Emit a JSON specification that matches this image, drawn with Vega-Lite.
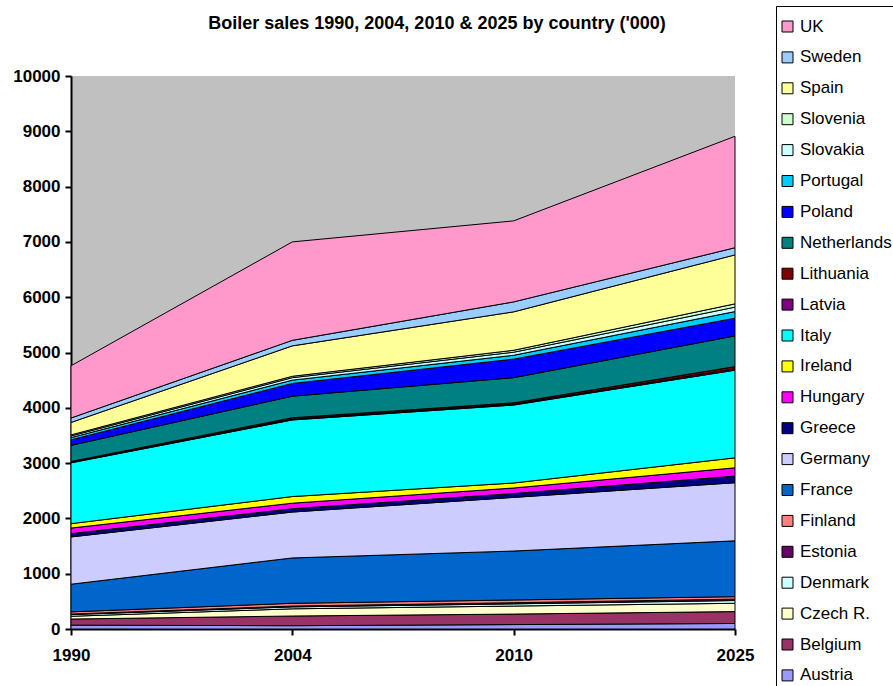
{
  "$schema": "https://vega.github.io/schema/vega-lite/v6.json",
  "width": 664,
  "height": 553,
  "autosize": "none",
  "padding": {"left": 71, "top": 76, "right": 158, "bottom": 57},
  "background": "white",
  "config": {
    "font": "Liberation Sans",
    "view": {"fill": "#C0C0C0", "stroke": null}
  },
  "title": {
    "text": "Boiler sales 1990, 2004, 2010 & 2025 by country ('000)",
    "font": "Liberation Sans",
    "fontSize": 18,
    "fontWeight": "bold",
    "color": "black",
    "anchor": "middle",
    "frame": "group",
    "offset": 0,
    "dx": 34,
    "dy": 27
  },
  "data": {
    "values": [
      {"country": "Austria", "year": "1990", "value": 70},
      {"country": "Austria", "year": "2004", "value": 60},
      {"country": "Austria", "year": "2010", "value": 80},
      {"country": "Austria", "year": "2025", "value": 100},
      {"country": "Belgium", "year": "1990", "value": 110},
      {"country": "Belgium", "year": "2004", "value": 175},
      {"country": "Belgium", "year": "2010", "value": 190},
      {"country": "Belgium", "year": "2025", "value": 215},
      {"country": "Czech R.", "year": "1990", "value": 50},
      {"country": "Czech R.", "year": "2004", "value": 130},
      {"country": "Czech R.", "year": "2010", "value": 145},
      {"country": "Czech R.", "year": "2025", "value": 150},
      {"country": "Denmark", "year": "1990", "value": 30},
      {"country": "Denmark", "year": "2004", "value": 35},
      {"country": "Denmark", "year": "2010", "value": 40},
      {"country": "Denmark", "year": "2025", "value": 50},
      {"country": "Estonia", "year": "1990", "value": 10},
      {"country": "Estonia", "year": "2004", "value": 15},
      {"country": "Estonia", "year": "2010", "value": 20},
      {"country": "Estonia", "year": "2025", "value": 25},
      {"country": "Finland", "year": "1990", "value": 40},
      {"country": "Finland", "year": "2004", "value": 50},
      {"country": "Finland", "year": "2010", "value": 50},
      {"country": "Finland", "year": "2025", "value": 45},
      {"country": "France", "year": "1990", "value": 500},
      {"country": "France", "year": "2004", "value": 820},
      {"country": "France", "year": "2010", "value": 885},
      {"country": "France", "year": "2025", "value": 1010},
      {"country": "Germany", "year": "1990", "value": 855},
      {"country": "Germany", "year": "2004", "value": 830},
      {"country": "Germany", "year": "2010", "value": 970},
      {"country": "Germany", "year": "2025", "value": 1050},
      {"country": "Greece", "year": "1990", "value": 60},
      {"country": "Greece", "year": "2004", "value": 60},
      {"country": "Greece", "year": "2010", "value": 70},
      {"country": "Greece", "year": "2025", "value": 120},
      {"country": "Hungary", "year": "1990", "value": 100},
      {"country": "Hungary", "year": "2004", "value": 100},
      {"country": "Hungary", "year": "2010", "value": 100},
      {"country": "Hungary", "year": "2025", "value": 150},
      {"country": "Ireland", "year": "1990", "value": 80},
      {"country": "Ireland", "year": "2004", "value": 120},
      {"country": "Ireland", "year": "2010", "value": 90},
      {"country": "Ireland", "year": "2025", "value": 180},
      {"country": "Italy", "year": "1990", "value": 1100},
      {"country": "Italy", "year": "2004", "value": 1385},
      {"country": "Italy", "year": "2010", "value": 1410},
      {"country": "Italy", "year": "2025", "value": 1585},
      {"country": "Latvia", "year": "1990", "value": 10},
      {"country": "Latvia", "year": "2004", "value": 15},
      {"country": "Latvia", "year": "2010", "value": 15},
      {"country": "Latvia", "year": "2025", "value": 25},
      {"country": "Lithuania", "year": "1990", "value": 15},
      {"country": "Lithuania", "year": "2004", "value": 25},
      {"country": "Lithuania", "year": "2010", "value": 25},
      {"country": "Lithuania", "year": "2025", "value": 40},
      {"country": "Netherlands", "year": "1990", "value": 290},
      {"country": "Netherlands", "year": "2004", "value": 390},
      {"country": "Netherlands", "year": "2010", "value": 455},
      {"country": "Netherlands", "year": "2025", "value": 555},
      {"country": "Poland", "year": "1990", "value": 100},
      {"country": "Poland", "year": "2004", "value": 230},
      {"country": "Poland", "year": "2010", "value": 335},
      {"country": "Poland", "year": "2025", "value": 320},
      {"country": "Portugal", "year": "1990", "value": 40},
      {"country": "Portugal", "year": "2004", "value": 60},
      {"country": "Portugal", "year": "2010", "value": 70},
      {"country": "Portugal", "year": "2025", "value": 120},
      {"country": "Slovakia", "year": "1990", "value": 30},
      {"country": "Slovakia", "year": "2004", "value": 45},
      {"country": "Slovakia", "year": "2010", "value": 55},
      {"country": "Slovakia", "year": "2025", "value": 80},
      {"country": "Slovenia", "year": "1990", "value": 20},
      {"country": "Slovenia", "year": "2004", "value": 25},
      {"country": "Slovenia", "year": "2010", "value": 35},
      {"country": "Slovenia", "year": "2025", "value": 60},
      {"country": "Spain", "year": "1990", "value": 225},
      {"country": "Spain", "year": "2004", "value": 550},
      {"country": "Spain", "year": "2010", "value": 695},
      {"country": "Spain", "year": "2025", "value": 885},
      {"country": "Sweden", "year": "1990", "value": 80},
      {"country": "Sweden", "year": "2004", "value": 100},
      {"country": "Sweden", "year": "2010", "value": 180},
      {"country": "Sweden", "year": "2025", "value": 130},
      {"country": "UK", "year": "1990", "value": 945},
      {"country": "UK", "year": "2004", "value": 1780},
      {"country": "UK", "year": "2010", "value": 1465},
      {"country": "UK", "year": "2025", "value": 2015}
    ]
  },
  "mark": {"type": "area", "stroke": "black", "strokeWidth": 1, "opacity": 1, "fillOpacity": 1},
  "encoding": {
    "x": {
      "field": "year",
      "type": "ordinal",
      "scale": {"type": "point", "padding": 0},
      "axis": {
        "title": null,
        "labelAngle": 0,
        "labelFont": "Liberation Sans",
        "labelFontSize": 17,
        "labelFontWeight": "bold",
        "labelColor": "black",
        "labelPadding": 12,
        "tickSize": 6,
        "tickWidth": 2,
        "tickColor": "black",
        "domainColor": "black",
        "domainWidth": 2,
        "grid": false
      }
    },
    "y": {
      "field": "value",
      "type": "quantitative",
      "stack": "zero",
      "scale": {"domain": [0, 10000], "nice": false},
      "axis": {
        "title": null,
        "values": [0, 1000, 2000, 3000, 4000, 5000, 6000, 7000, 8000, 9000, 10000],
        "format": "d",
        "labelFont": "Liberation Sans",
        "labelFontSize": 17,
        "labelFontWeight": "bold",
        "labelColor": "black",
        "labelPadding": 5,
        "tickSize": 6,
        "tickWidth": 2,
        "tickColor": "black",
        "domainColor": "black",
        "domainWidth": 2,
        "grid": false
      }
    },
    "order": {"field": "country", "sort": "ascending"},
    "color": {
      "field": "country",
      "type": "nominal",
      "scale": {
        "domain": ["UK", "Sweden", "Spain", "Slovenia", "Slovakia", "Portugal", "Poland", "Netherlands", "Lithuania", "Latvia", "Italy", "Ireland", "Hungary", "Greece", "Germany", "France", "Finland", "Estonia", "Denmark", "Czech R.", "Belgium", "Austria"],
        "range": ["#FF99CC", "#99CCFF", "#FFFF99", "#CCFFCC", "#CCFFFF", "#00CCFF", "#0000FF", "#008080", "#800000", "#800080", "#00FFFF", "#FFFF00", "#FF00FF", "#000080", "#CCCCFF", "#0066CC", "#FF8080", "#660066", "#CCFFFF", "#FFFFCC", "#993366", "#9999FF"]
      },
      "legend": {
        "title": null,
        "orient": "none",
        "legendX": 705,
        "legendY": -70,
        "direction": "vertical",
        "padding": 12,
        "strokeColor": "black",
        "fillColor": "white",
        "symbolType": "square",
        "symbolSize": 121,
        "symbolStrokeColor": "black",
        "symbolStrokeWidth": 1,
        "symbolOpacity": 1,
        "symbolOffset": -9,
        "labelFont": "Liberation Sans",
        "labelFontSize": 17,
        "labelColor": "black",
        "labelOffset": 4,
        "rowPadding": 12.9,
        "labelLimit": 300
      }
    }
  }
}
